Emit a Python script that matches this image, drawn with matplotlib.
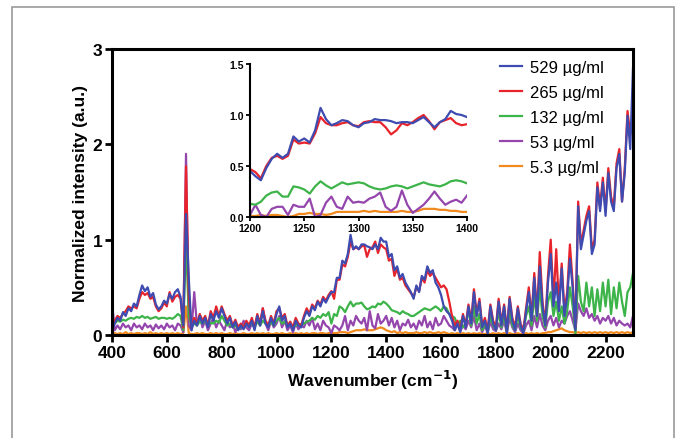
import numpy as np
import matplotlib
matplotlib.use("Agg")
import matplotlib.pyplot as plt
from matplotlib.patches import Rectangle

plt.rcParams['font.family'] = ['Liberation Sans', 'DejaVu Sans']

# Main spectra: wavenumber grid 400..2300 cm-1, step 10
wavenumber = np.arange(400, 2301, 10)

blue_529 = [
    0.05, 0.12, 0.18, 0.15, 0.24, 0.2, 0.28, 0.25, 0.33, 0.3,
    0.42, 0.52, 0.46, 0.5, 0.4, 0.44, 0.32, 0.27, 0.3, 0.36,
    0.33, 0.43, 0.38, 0.45, 0.48, 0.4, 0.1, 1.27, 0.6, 0.05,
    0.15, 0.1, 0.2, 0.12, 0.18, 0.08, 0.22, 0.15, 0.25, 0.18,
    0.28, 0.2, 0.12, 0.18, 0.08, 0.14, 0.05, 0.1, 0.06, 0.12,
    0.08, 0.15, 0.05, 0.2, 0.1, 0.25, 0.12, 0.08, 0.18, 0.1,
    0.22, 0.3, 0.15, 0.2, 0.08, 0.12, 0.05, 0.15, 0.1, 0.08,
    0.18, 0.25, 0.2, 0.3, 0.26, 0.35, 0.3, 0.38, 0.34, 0.4,
    0.45, 0.45, 0.6, 0.6, 0.78, 0.75, 0.85, 1.05, 0.9, 0.93,
    0.9, 0.95, 0.95, 0.93, 0.92, 0.9, 0.95, 0.9, 1.02, 0.98,
    0.98, 0.82, 0.85, 0.68, 0.72, 0.6, 0.64, 0.55, 0.5, 0.45,
    0.38, 0.52, 0.45, 0.62, 0.58, 0.72, 0.65, 0.68, 0.55, 0.5,
    0.42, 0.3, 0.25, 0.22, 0.15, 0.05, 0.12, 0.03, 0.2, 0.08,
    0.3, 0.12, 0.45, 0.2, 0.35, 0.08, 0.15, 0.02, 0.3, 0.12,
    0.05, 0.35, 0.1, 0.3, 0.02, 0.38, 0.15, 0.05, 0.28, 0.1,
    0.02, 0.25, 0.45, 0.15, 0.6, 0.2, 0.72, 0.3, 0.1, 0.55,
    0.85, 0.3, 0.55, 0.25, 0.7, 0.2, 0.4, 0.8, 0.5, 0.05,
    1.35, 0.9, 1.05, 1.2, 1.3, 0.85, 0.95, 1.55, 1.3, 1.6,
    1.25, 1.7, 1.4, 1.3, 1.75, 1.9, 1.4, 1.7, 2.3, 1.95,
    2.8]

red_265 = [
    0.08, 0.15, 0.2, 0.18, 0.22, 0.25, 0.3, 0.28, 0.3, 0.28,
    0.38, 0.45, 0.42, 0.44, 0.38, 0.4, 0.3, 0.25, 0.28, 0.34,
    0.3, 0.45, 0.35, 0.4, 0.42, 0.38, 0.08, 1.77, 0.4, 0.08,
    0.18, 0.12, 0.22, 0.15, 0.2, 0.1, 0.25, 0.18, 0.3, 0.2,
    0.3, 0.22, 0.15, 0.2, 0.1, 0.16, 0.08, 0.12, 0.08, 0.15,
    0.1, 0.18, 0.08, 0.22, 0.12, 0.28, 0.15, 0.1, 0.2, 0.12,
    0.25, 0.28, 0.18, 0.22, 0.1, 0.14, 0.08, 0.18, 0.12, 0.1,
    0.2, 0.28, 0.22, 0.32, 0.28, 0.36, 0.32, 0.4, 0.36, 0.42,
    0.46, 0.38, 0.58, 0.58, 0.74, 0.72, 0.82, 0.98, 0.9, 0.92,
    0.9, 0.93, 0.94, 0.82, 0.9, 0.92, 0.98, 0.86, 0.95, 0.92,
    0.9, 0.78, 0.8, 0.62, 0.7, 0.58, 0.6, 0.52, 0.48, 0.44,
    0.4, 0.5, 0.46, 0.6, 0.55, 0.68, 0.62, 0.65, 0.6, 0.55,
    0.5, 0.52, 0.48, 0.35, 0.2, 0.1, 0.15, 0.06, 0.22, 0.1,
    0.32, 0.15, 0.48, 0.22, 0.38, 0.1, 0.18, 0.05, 0.32, 0.15,
    0.08, 0.38, 0.12, 0.32, 0.05, 0.4, 0.18, 0.08, 0.3, 0.12,
    0.05, 0.28, 0.5, 0.18, 0.65, 0.22, 0.87, 0.35, 0.12, 0.62,
    1.0, 0.35, 0.9, 0.3, 0.75, 0.25, 0.45, 0.95, 0.55, 0.08,
    1.4, 0.95, 1.1, 1.25, 1.35, 0.9, 1.0, 1.6, 1.35, 1.65,
    1.3, 1.75, 1.45, 1.35, 1.8, 1.95, 1.4, 1.75, 2.35, 2.1,
    2.3]

green_132 = [
    0.1, 0.12, 0.15, 0.14, 0.16, 0.15, 0.17, 0.18, 0.17, 0.19,
    0.18, 0.2, 0.18, 0.19, 0.17, 0.18, 0.19, 0.17, 0.18, 0.18,
    0.17, 0.18, 0.17, 0.19, 0.22, 0.2, 0.05, 1.0, 0.2, 0.1,
    0.12, 0.1, 0.14, 0.12, 0.15, 0.1, 0.13, 0.12, 0.15, 0.13,
    0.2, 0.15, 0.1, 0.12, 0.08, 0.1, 0.06, 0.08, 0.1, 0.12,
    0.1, 0.12, 0.08, 0.14, 0.1, 0.15, 0.12, 0.1, 0.13, 0.1,
    0.15, 0.18, 0.12, 0.14, 0.1, 0.12, 0.08, 0.1, 0.12, 0.1,
    0.12, 0.14, 0.15, 0.18, 0.16, 0.2, 0.18, 0.22, 0.2, 0.24,
    0.12, 0.22, 0.2, 0.3, 0.28, 0.24, 0.3, 0.35, 0.3, 0.33,
    0.33, 0.34, 0.3, 0.27, 0.28, 0.3, 0.29, 0.33, 0.32, 0.35,
    0.33, 0.3, 0.26, 0.25, 0.24, 0.22, 0.25, 0.23, 0.22, 0.2,
    0.2, 0.22, 0.24, 0.26, 0.28, 0.27, 0.26, 0.28, 0.3, 0.28,
    0.25, 0.3, 0.28, 0.22, 0.2, 0.18, 0.1, 0.15, 0.08, 0.12,
    0.25, 0.1, 0.3, 0.12, 0.22, 0.05, 0.12, 0.03, 0.2, 0.1,
    0.05, 0.25, 0.08, 0.2, 0.03, 0.28, 0.1, 0.05, 0.2, 0.08,
    0.03, 0.2, 0.3, 0.1, 0.42, 0.15, 0.5, 0.2, 0.08, 0.35,
    0.45, 0.2, 0.35, 0.15, 0.3, 0.12, 0.25, 0.5, 0.3, 0.02,
    0.62, 0.35, 0.25, 0.55, 0.3, 0.5, 0.2, 0.48, 0.25, 0.55,
    0.3, 0.58, 0.22, 0.5, 0.28, 0.55, 0.35, 0.2, 0.45, 0.5,
    0.65]

purple_53 = [
    0.35, 0.05, 0.1, 0.06, 0.12, 0.08, 0.1, 0.05, 0.12, 0.08,
    0.1, 0.06, 0.12, 0.08, 0.1, 0.05, 0.11, 0.07, 0.1, 0.06,
    0.12, 0.08, 0.1, 0.05, 0.12, 0.1, 0.03, 1.9, 0.1, 0.05,
    0.45, 0.1, 0.2, 0.08, 0.15, 0.05, 0.12, 0.18, 0.08, 0.15,
    0.1, 0.05, 0.15, 0.08, 0.12, 0.03, 0.1, 0.06, 0.15, 0.08,
    0.05, 0.12, 0.08, 0.18, 0.1, 0.28, 0.12, 0.05, 0.15, 0.08,
    0.12, 0.2, 0.08, 0.15, 0.05, 0.1, 0.03, 0.12, 0.06, 0.1,
    0.08, 0.15, 0.1, 0.18, 0.06, 0.12, 0.05, 0.15, 0.1, 0.08,
    0.02, 0.1, 0.08, 0.05, 0.1, 0.2, 0.05, 0.15, 0.1, 0.2,
    0.15, 0.12, 0.18, 0.05, 0.25, 0.1, 0.07, 0.22, 0.12, 0.15,
    0.2, 0.1, 0.18, 0.08, 0.15, 0.05, 0.12, 0.1, 0.16, 0.08,
    0.12, 0.06, 0.15, 0.1, 0.2, 0.08, 0.14, 0.06, 0.18, 0.1,
    0.12, 0.2, 0.15, 0.1, 0.08, 0.05, 0.12, 0.04, 0.1, 0.06,
    0.15, 0.08, 0.2, 0.05, 0.12, 0.03, 0.1, 0.02, 0.14, 0.06,
    0.04, 0.12, 0.06, 0.15, 0.02, 0.18, 0.08, 0.03, 0.12, 0.05,
    0.02, 0.1, 0.15, 0.05, 0.2, 0.08, 0.22, 0.1, 0.05, 0.15,
    0.2, 0.1, 0.18, 0.08, 0.15, 0.12, 0.2, 0.25, 0.15, 0.05,
    0.33, 0.25, 0.2, 0.28, 0.18, 0.22, 0.15, 0.2, 0.12, 0.18,
    0.15, 0.2, 0.12, 0.18, 0.1, 0.15, 0.12, 0.1, 0.12, 0.08,
    0.2]

orange_5 = [
    0.01, 0.02, 0.01, 0.02, 0.01, 0.03, 0.01, 0.02, 0.01, 0.02,
    0.02, 0.01, 0.02, 0.01, 0.03, 0.01, 0.02, 0.01, 0.02, 0.01,
    0.02, 0.01, 0.02, 0.01, 0.02, 0.01, 0.02, 0.3, 0.02, 0.01,
    0.01, 0.02, 0.01, 0.02, 0.01, 0.01, 0.02, 0.01, 0.02, 0.01,
    0.02, 0.01, 0.01, 0.02, 0.01, 0.02, 0.01, 0.01, 0.02, 0.01,
    0.01, 0.02, 0.01, 0.02, 0.01, 0.02, 0.01, 0.02, 0.01, 0.01,
    0.02, 0.01, 0.02, 0.01, 0.01, 0.02, 0.01, 0.02, 0.01, 0.02,
    0.01, 0.02, 0.01, 0.02, 0.02, 0.01, 0.02, 0.02, 0.01, 0.02,
    0.02, 0.02, 0.02, 0.03, 0.03, 0.03, 0.02, 0.03, 0.04, 0.05,
    0.05, 0.05, 0.06, 0.05, 0.05, 0.05, 0.06, 0.07, 0.08, 0.07,
    0.05, 0.04, 0.03, 0.04, 0.02, 0.03, 0.02, 0.03, 0.02, 0.02,
    0.02, 0.03, 0.02, 0.02, 0.03, 0.02, 0.03, 0.02, 0.02, 0.03,
    0.02, 0.03, 0.02, 0.01, 0.02, 0.01, 0.02, 0.01, 0.02, 0.01,
    0.02, 0.01, 0.02, 0.01, 0.02, 0.01, 0.01, 0.02, 0.01, 0.02,
    0.01, 0.02, 0.01, 0.02, 0.01, 0.02, 0.01, 0.01, 0.02, 0.01,
    0.01, 0.02, 0.01, 0.02, 0.01, 0.02, 0.01, 0.02, 0.02, 0.03,
    0.03, 0.04, 0.05, 0.06, 0.07, 0.05, 0.04, 0.03, 0.03, 0.02,
    0.03, 0.02, 0.03, 0.02, 0.03, 0.02, 0.03, 0.02, 0.03, 0.02,
    0.03, 0.02, 0.03, 0.02, 0.03, 0.02, 0.03, 0.02, 0.03, 0.02,
    0.03]

# Inset: zoom on 1200..1400 cm-1, step 5
inset_wn = np.arange(1200, 1401, 5)

inset_blue = [0.45, 0.40, 0.36, 0.48, 0.57, 0.62, 0.58, 0.62, 0.79, 0.74,
              0.77, 0.73, 0.85, 1.07, 0.96, 0.9, 0.92, 0.95, 0.94, 0.9,
              0.88, 0.92, 0.93, 0.96, 0.95, 0.95, 0.94, 0.92, 0.93, 0.93,
              0.92, 0.95, 0.98, 0.93, 0.88, 0.93, 0.96, 1.04, 1.01, 1.0,
              0.98]
inset_red = [0.47, 0.44, 0.38, 0.5, 0.58, 0.6, 0.57, 0.6, 0.76, 0.72,
             0.73, 0.72, 0.82, 0.98, 0.92, 0.9, 0.9, 0.92, 0.93, 0.9,
             0.89, 0.93, 0.94, 0.93, 0.93, 0.88, 0.81, 0.85, 0.92, 0.9,
             0.93, 0.97, 1.0, 0.94, 0.86, 0.93, 0.95, 0.97, 0.92, 0.9,
             0.91]
inset_green = [0.13, 0.12, 0.15, 0.21, 0.24, 0.25, 0.2, 0.2, 0.3, 0.29,
               0.27, 0.23, 0.3, 0.35, 0.31, 0.28, 0.31, 0.34, 0.32, 0.33,
               0.34, 0.33, 0.3, 0.28, 0.27, 0.28, 0.3, 0.31, 0.3, 0.28,
               0.3, 0.32, 0.34, 0.32, 0.31, 0.3, 0.32, 0.35, 0.36, 0.35,
               0.33]
inset_purple = [0.02, 0.12, 0.02, 0.0, 0.08, 0.1, 0.1, 0.02, 0.12, 0.1,
                0.1, 0.18, 0.0, 0.02, 0.14, 0.2, 0.1, 0.08, 0.2, 0.14,
                0.15, 0.14, 0.18, 0.2, 0.24, 0.1, 0.06, 0.1, 0.26, 0.12,
                0.04, 0.08, 0.12, 0.18, 0.25, 0.18, 0.12, 0.15, 0.17, 0.14,
                0.21]
inset_orange = [0.01, 0.01, 0.02, 0.01, 0.02, 0.02, 0.01, 0.0, 0.01, 0.03,
                0.03, 0.04, 0.03, 0.03, 0.02, 0.03, 0.05, 0.05, 0.05, 0.05,
                0.05, 0.06, 0.05, 0.06, 0.05, 0.05, 0.05, 0.05, 0.06, 0.05,
                0.05, 0.06, 0.08, 0.08, 0.08, 0.07, 0.07, 0.06, 0.06, 0.05,
                0.05]

labels = ['529 µg/ml', '265 µg/ml', '132 µg/ml', '53 µg/ml', '5.3 µg/ml']
colors = ['#3e4bb0', '#e8232b', '#3db449', '#9446ad', '#f0891e']

main_series = [blue_529, red_265, green_132, purple_53, orange_5]
inset_series = [inset_blue, inset_red, inset_green, inset_purple, inset_orange]

fig = plt.figure(figsize=(6.77, 4.39), dpi=100)

# thin grey frame around the panel
fig.add_artist(Rectangle((12 / 677, -0.05), 662 / 677, 1 - 8 / 439 + 0.05,
                         transform=fig.transFigure, fill=False,
                         edgecolor='#999999', linewidth=1.2))

ax = fig.add_axes([0.1654, 0.2346, 0.7696, 0.6515])
handles = []
# draw lowest concentration first so the 529 trace sits on top
for vals, col, lab in reversed(list(zip(main_series, colors, labels))):
    h, = ax.plot(wavenumber, vals, color=col, lw=1.6, label=lab)
    handles.append(h)
handles = handles[::-1]

ax.set_xlim(400, 2300)
ax.set_ylim(0, 3)
ax.set_xticks(range(400, 2201, 200))
ax.set_yticks([0, 1, 2, 3])
for s in ax.spines.values():
    s.set_linewidth(2.2)
ax.tick_params(direction='out', length=5, width=2, labelsize=12.5, pad=2)
for t in ax.get_xticklabels() + ax.get_yticklabels():
    t.set_fontweight('bold')
ax.set_xlabel('Wavenumber (cm$^{\\mathbf{-1}}$)', fontsize=12.5,
              fontweight='bold', labelpad=6)
ax.set_ylabel('Normalized intensity (a.u.)', fontsize=12.5,
              fontweight='bold', labelpad=3)

fig.legend(handles=handles, labels=labels, loc='upper left',
           bbox_to_anchor=(485 / 677, 1 - 46 / 439), frameon=False,
           fontsize=12, handlelength=1.3, handletextpad=0.5,
           labelspacing=0.6)

# inset
axi = fig.add_axes([0.3693, 0.5034, 0.3205, 0.3485])
for vals, col in reversed(list(zip(inset_series, colors))):
    axi.plot(inset_wn, vals, color=col, lw=1.6)
axi.set_xlim(1200, 1400)
axi.set_ylim(0, 1.5)
axi.set_xticks([1200, 1250, 1300, 1350, 1400])
axi.set_yticks([0.0, 0.5, 1.0, 1.5])
axi.yaxis.set_major_formatter(matplotlib.ticker.FormatStrFormatter('%.1f'))
axi.spines['top'].set_visible(False)
axi.spines['right'].set_visible(False)
for s in ['left', 'bottom']:
    axi.spines[s].set_linewidth(1.5)
axi.tick_params(direction='out', length=3, width=1.3, labelsize=7.5, pad=1.5)
for t in axi.get_xticklabels() + axi.get_yticklabels():
    t.set_fontweight('bold')
axi.patch.set_alpha(0)

fig.savefig('out.png', dpi=100)
